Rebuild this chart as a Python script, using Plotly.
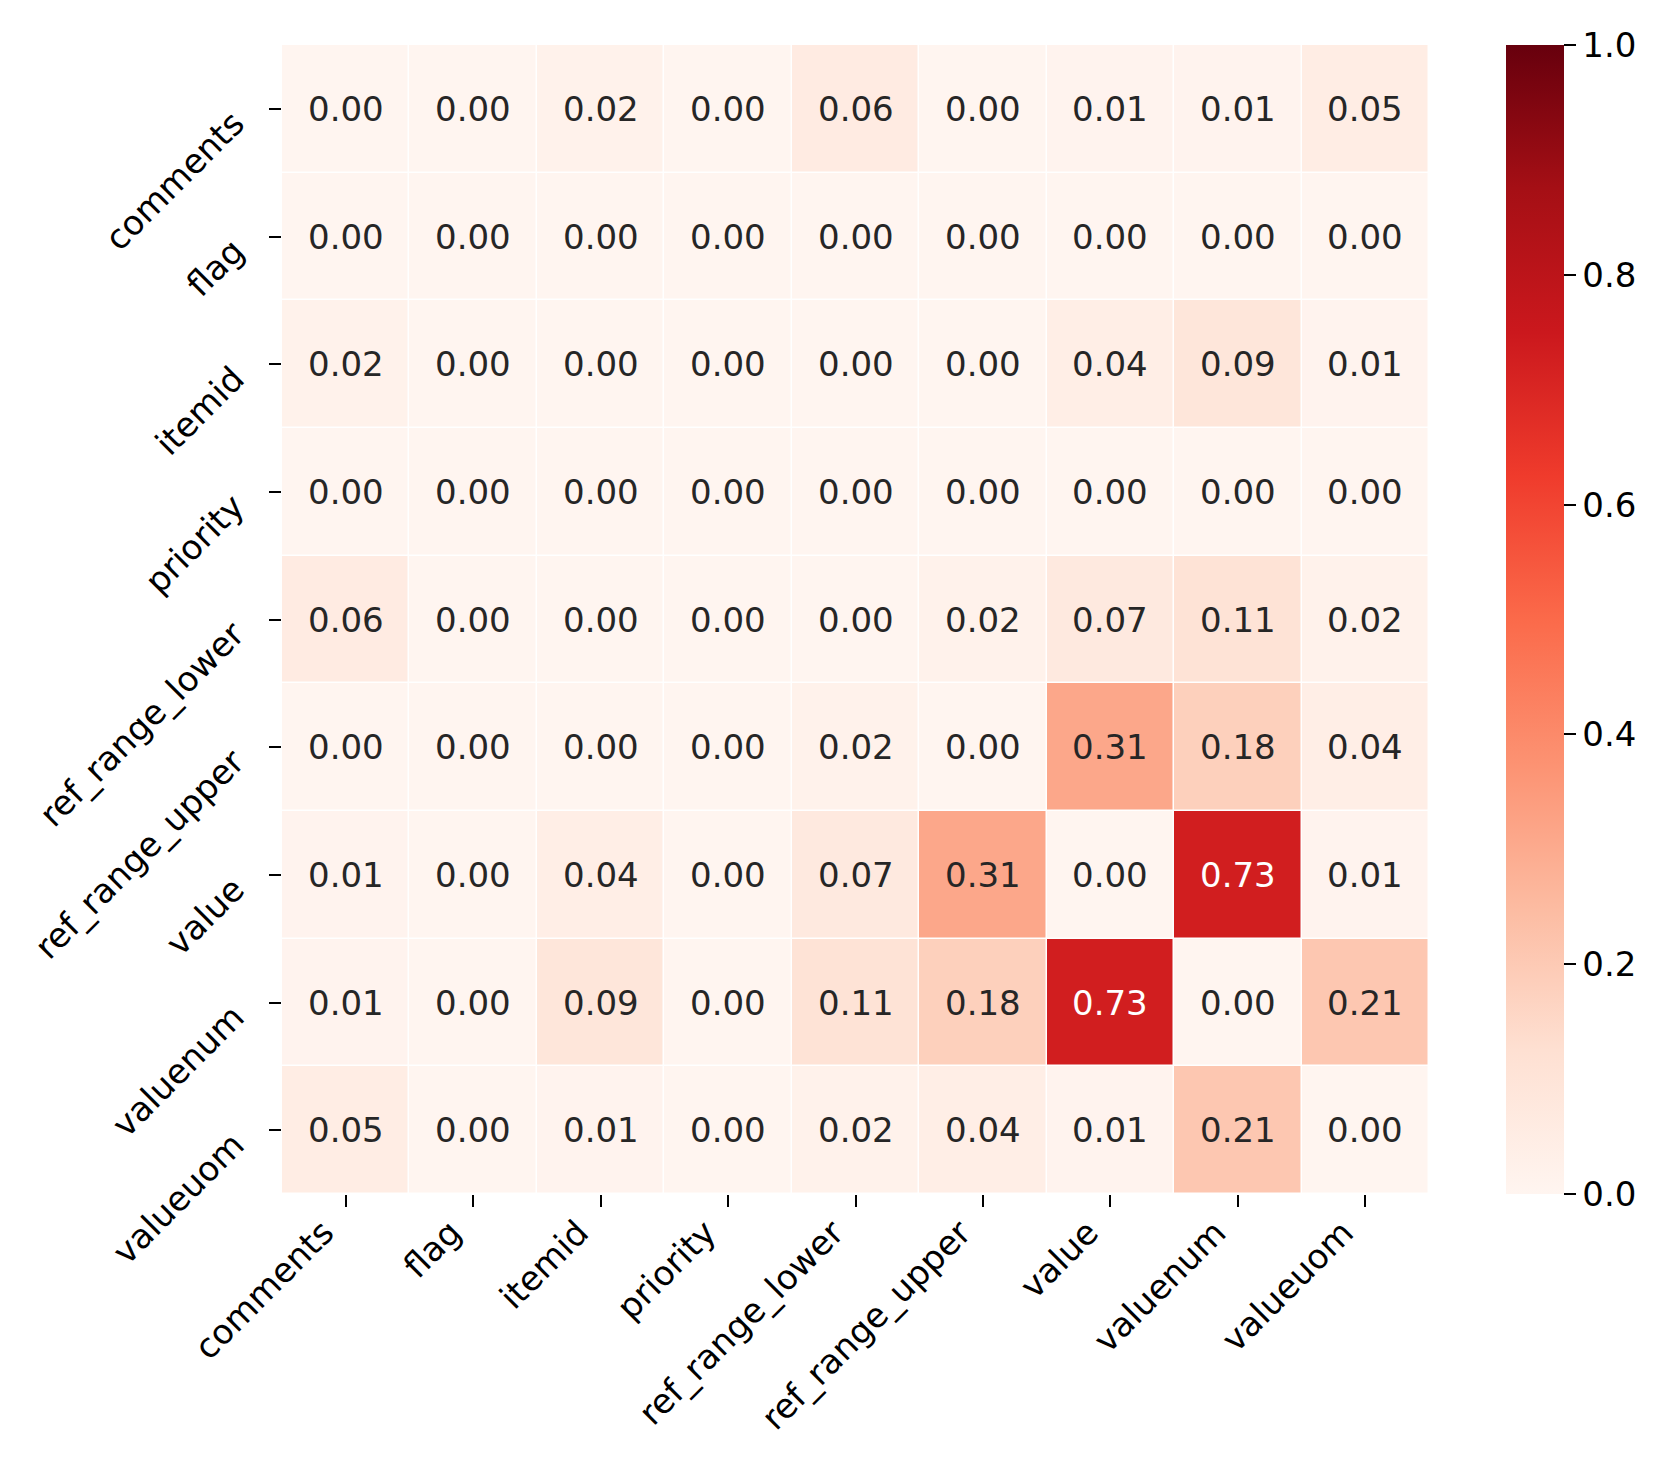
import plotly.graph_objects as go
import plotly.express as px

labels = ["comments", "flag", "itemid", "priority", "ref_range_lower",
          "ref_range_upper", "value", "valuenum", "valueuom"]

row_comments = [0.00, 0.00, 0.02, 0.00, 0.06, 0.00, 0.01, 0.01, 0.05]
row_flag = [0.00, 0.00, 0.00, 0.00, 0.00, 0.00, 0.00, 0.00, 0.00]
row_itemid = [0.02, 0.00, 0.00, 0.00, 0.00, 0.00, 0.04, 0.09, 0.01]
row_priority = [0.00, 0.00, 0.00, 0.00, 0.00, 0.00, 0.00, 0.00, 0.00]
row_ref_range_lower = [0.06, 0.00, 0.00, 0.00, 0.00, 0.02, 0.07, 0.11, 0.02]
row_ref_range_upper = [0.00, 0.00, 0.00, 0.00, 0.02, 0.00, 0.31, 0.18, 0.04]
row_value = [0.01, 0.00, 0.04, 0.00, 0.07, 0.31, 0.00, 0.73, 0.01]
row_valuenum = [0.01, 0.00, 0.09, 0.00, 0.11, 0.18, 0.73, 0.00, 0.21]
row_valueuom = [0.05, 0.00, 0.01, 0.00, 0.02, 0.04, 0.01, 0.21, 0.00]

z = [row_comments, row_flag, row_itemid, row_priority, row_ref_range_lower,
     row_ref_range_upper, row_value, row_valuenum, row_valueuom]

colorbar_ticks = [0.0, 0.2, 0.4, 0.6, 0.8, 1.0]

FONT = "DejaVu Sans"
FS = 34

W, H = 1660, 1460
L, R, T, B = 274, 239, 37, 274

fig = go.Figure()
fig.add_trace(go.Heatmap(
    z=z, x=labels, y=labels,
    zmin=0, zmax=1,
    colorscale=px.colors.sequential.Reds,
    xgap=1.5, ygap=1.5,
    colorbar=dict(
        x=(1498 - L) / (W - L - R), xanchor="left",
        y=0.5, yanchor="middle",
        len=1.0, lenmode="fraction",
        thickness=58, thicknessmode="pixels",
        outlinewidth=0,
        tickmode="array", tickvals=colorbar_ticks,
        ticktext=[f"{v:.1f}" for v in colorbar_ticks],
        ticks="outside", ticklen=12, tickwidth=2, tickcolor="black",
        tickfont=dict(family=FONT, size=FS, color="black"),
        xpad=0, ypad=0,
    ),
))

annotations = []
for i, rname in enumerate(labels):
    for j, cname in enumerate(labels):
        v = z[i][j]
        annotations.append(dict(
            x=cname, y=rname, text=f"{v:.2f}", showarrow=False,
            font=dict(family=FONT, size=FS,
                      color="white" if v > 0.5 else "#262626"),
            xref="x", yref="y",
        ))

fig.update_layout(
    width=W, height=H,
    margin=dict(l=L, r=R, t=T, b=B, autoexpand=False),
    paper_bgcolor="white", plot_bgcolor="white",
    font=dict(family=FONT, size=FS, color="black"),
    annotations=annotations,
    xaxis=dict(
        automargin=False,
        tickangle=-45, ticks="outside", ticklen=12, tickwidth=2,
        tickcolor="black", showgrid=False, zeroline=False, showline=False,
        tickfont=dict(family=FONT, size=FS, color="black"),
        ticklabelstandoff=-8, ticklabelshift=-22,
    ),
    yaxis=dict(
        automargin=False,
        autorange="reversed",
        tickangle=-45, ticks="outside", ticklen=12, tickwidth=2,
        tickcolor="black", showgrid=False, zeroline=False, showline=False,
        tickfont=dict(family=FONT, size=FS, color="black"),
        ticklabelstandoff=28, ticklabelshift=-10,
    ),
)

fig.write_html("out.html")
